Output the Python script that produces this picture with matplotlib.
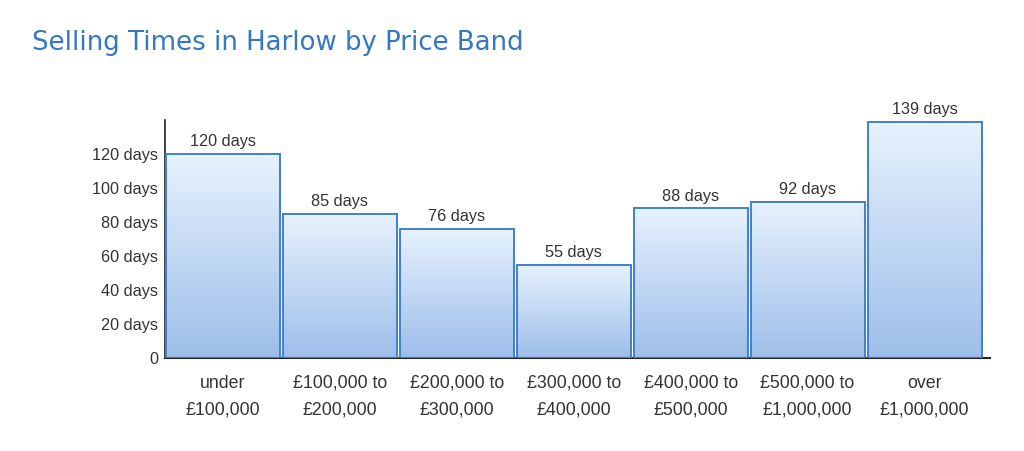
import matplotlib
matplotlib.use("Agg")
import matplotlib.pyplot as plt
import numpy as np
from matplotlib.colors import LinearSegmentedColormap

categories = ["under\n£100,000", "£100,000 to\n£200,000", "£200,000 to\n£300,000",
              "£300,000 to\n£400,000", "£400,000 to\n£500,000", "£500,000 to\n£1,000,000",
              "over\n£1,000,000"]
days = [120, 85, 76, 55, 88, 92, 139]
yticks = [0, 20, 40, 60, 80, 100, 120]
ytick_labels = ["0"] + [f"{v} days" for v in yticks[1:]]
title = "Selling Times in Harlow by Price Band"

FONT = ["Liberation Sans", "DejaVu Sans"]

fig = plt.figure(figsize=(10.24, 4.51), dpi=100)
ax = fig.add_axes([165/1024, 1-358/451, (990-165)/1024, (358-120)/451])

cmap = LinearSegmentedColormap.from_list("g", ["#9dbeea", "#c2d8f4", "#e8f2fd"])
x = np.arange(len(days))
width = 0.975
bars = ax.bar(x, days, width=width, facecolor="none", edgecolor="#3f80d0",
              linewidth=1.4, zorder=3)
grad = np.linspace(0, 1, 256).reshape(-1, 1)
for b, v in zip(bars, days):
    x0 = b.get_x()
    im = ax.imshow(grad, cmap=cmap, origin="lower", aspect="auto",
                   extent=[x0, x0 + b.get_width(), 0, v], zorder=2)
    im.set_clip_path(b)
    ax.text(b.get_x() + b.get_width()/2, v + 2.7, f"{v} days", ha="center",
            va="bottom", fontsize=11.7, color="#333333", family=FONT)

ax.set_xlim(-0.495, 6.56)
ax.set_ylim(0, 140)
ax.set_yticks(yticks)
ax.set_yticklabels(ytick_labels, fontsize=11.7, color="#333333", family=FONT)
ax.set_xticks(x)
ax.set_xticklabels(categories, fontsize=12.8, color="#333333", family=FONT,
                   linespacing=1.75)
ax.tick_params(axis="both", length=0)
ax.tick_params(axis="y", pad=5)
ax.tick_params(axis="x", pad=12)
for s in ["top", "right"]:
    ax.spines[s].set_visible(False)
ax.spines["left"].set_color("#222222")
ax.spines["bottom"].set_color("#222222")
ax.spines["left"].set_linewidth(1.2)
ax.spines["bottom"].set_linewidth(1.5)

fig.text(32/1024, 1-43/451, title, ha="left", va="center", fontsize=18.7,
         color="#3577c0", family="DejaVu Sans", fontweight="medium")

fig.savefig("out.png", dpi=100)
